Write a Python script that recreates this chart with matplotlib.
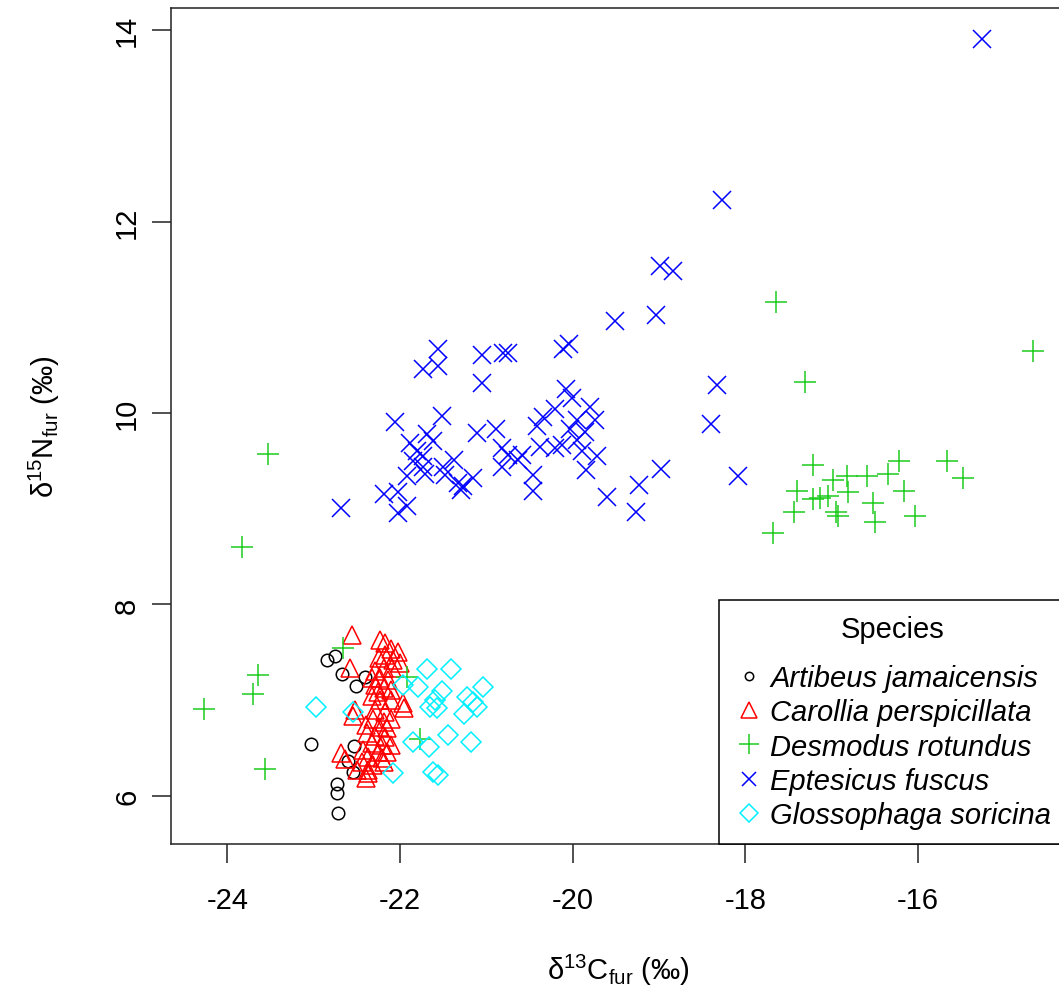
import matplotlib
matplotlib.use("Agg")
import matplotlib.pyplot as plt
from matplotlib.lines import Line2D

plt.rcParams['font.family'] = ['Liberation Sans', 'DejaVu Sans']
plt.rcParams['mathtext.fontset'] = 'custom'
plt.rcParams['mathtext.rm'] = 'Liberation Sans'
plt.rcParams['mathtext.it'] = 'Liberation Sans:italic'

# Artibeus jamaicensis
art_c = [-22.85, -22.75, -22.67, -22.51, -22.41, -23.03, -22.53, -22.60, -22.55, -22.73, -22.73, -22.72]
art_n = [7.42, 7.46, 7.27, 7.15, 7.24, 6.54, 6.52, 6.36, 6.25, 6.12, 6.03, 5.82]

# Carollia perspicillata
car_c = [-22.56, -22.58, -22.23, -22.17, -22.11, -22.17, -22.25, -22.08, -22.03, -22.00,
         -22.09, -22.19, -22.29, -22.32, -22.23, -22.14, -22.29, -22.19, -22.11, -22.26,
         -22.32, -22.23, -22.11, -21.97, -21.96, -22.52, -22.55, -22.29, -22.17, -22.31,
         -22.19, -22.11, -22.40, -22.25, -22.15, -22.38, -22.29, -22.17, -22.32, -22.21,
         -22.11, -22.43, -22.26, -22.15, -22.69, -22.37, -22.21, -22.64, -22.44, -22.31,
         -22.19, -22.37, -22.50, -22.40, -22.37]
car_n = [7.68, 7.34, 7.63, 7.60, 7.53, 7.47, 7.44, 7.42, 7.50, 7.39,
         7.34, 7.34, 7.30, 7.23, 7.23, 7.21, 7.16, 7.13, 7.11, 7.08,
         7.04, 7.00, 7.00, 6.97, 6.92, 6.90, 6.83, 6.90, 6.88, 6.80,
         6.77, 6.80, 6.74, 6.72, 6.71, 6.66, 6.62, 6.61, 6.55, 6.53,
         6.53, 6.48, 6.46, 6.46, 6.45, 6.41, 6.40, 6.38, 6.35, 6.32,
         6.35, 6.27, 6.27, 6.19, 6.24]

# Desmodus rotundus
des_c = [-24.27, -23.83, -23.53, -23.65, -23.70, -23.56, -22.66, -21.92, -21.77,
         -17.65, -14.67, -17.31, -17.22, -16.22, -15.67, -15.48, -16.35, -16.59,
         -16.82, -16.99, -17.40, -17.22, -17.04, -16.81, -16.16, -16.52, -17.44,
         -16.95, -16.93, -16.50, -16.03, -17.68, -17.14]
des_n = [6.91, 8.60, 9.57, 7.26, 7.06, 6.28, 7.54, 7.24, 6.59,
         11.16, 10.65, 10.32, 9.46, 9.50, 9.50, 9.32, 9.36, 9.34,
         9.34, 9.30, 9.19, 9.10, 9.13, 9.17, 9.19, 9.06, 8.97,
         8.97, 8.92, 8.86, 8.92, 8.75, 9.11]

# Eptesicus fuscus
ept_c = [-15.26, -18.27, -18.99, -18.84, -19.51, -19.03, -18.33, -18.40, -18.98, -19.23,
         -19.60, -19.27, -18.09, -21.56, -21.74, -21.56, -21.05, -21.05, -20.81, -20.75,
         -20.11, -20.04, -22.06, -21.51, -21.11, -20.89, -21.88, -21.69, -21.62, -20.82,
         -20.75, -20.59, -20.82, -20.46, -20.46, -22.19, -22.02, -22.02, -21.92, -21.92,
         -21.85, -21.74, -21.73, -21.71, -21.48, -21.38, -21.33, -21.27, -21.16, -21.30,
         -22.69, -20.64, -21.80, -21.50, -20.08, -20.01, -19.80, -20.35, -20.41, -20.20,
         -19.95, -19.74, -20.03, -19.86, -20.20, -20.38, -19.95, -19.89, -19.72, -19.85,
         -20.12]
ept_n = [13.91, 12.23, 11.54, 11.48, 10.96, 11.02, 10.29, 9.89, 9.42, 9.25,
         9.12, 8.97, 9.34, 10.67, 10.46, 10.49, 10.61, 10.31, 10.63, 10.63,
         10.67, 10.72, 9.91, 9.97, 9.79, 9.83, 9.69, 9.78, 9.71, 9.63,
         9.56, 9.56, 9.44, 9.35, 9.19, 9.15, 9.18, 8.96, 9.03, 9.34,
         9.50, 9.55, 9.44, 9.36, 9.35, 9.51, 9.27, 9.24, 9.32, 9.20,
         9.01, 9.51, 9.60, 9.44, 10.25, 10.16, 10.06, 9.96, 9.86, 10.04,
         9.93, 9.93, 9.83, 9.80, 9.64, 9.65, 9.72, 9.60, 9.55, 9.41,
         9.67]

# Glossophaga soricina
glo_c = [-22.98, -22.54, -21.97, -21.69, -21.41, -21.79, -21.51, -21.59, -21.65, -21.57,
         -21.23, -21.15, -21.04, -21.11, -21.26, -21.85, -21.66, -21.45, -21.18, -22.08,
         -21.62, -21.56]
glo_n = [6.93, 6.88, 7.16, 7.33, 7.33, 7.14, 7.10, 7.00, 6.93, 6.92,
         7.03, 6.98, 7.14, 6.93, 6.86, 6.56, 6.51, 6.64, 6.56, 6.24,
         6.25, 6.22]

species = ["Artibeus jamaicensis", "Carollia perspicillata", "Desmodus rotundus",
           "Eptesicus fuscus", "Glossophaga soricina"]
xs = [art_c, car_c, des_c, ept_c, glo_c]
ys = [art_n, car_n, des_n, ept_n, glo_n]
colors = ["black", "#ff0000", "#1ccc1c", "#0000ff", "#00f0ff"]
markers = ["o", "^", "+", "x", "D"]
sizes = [9, 12.5, 15.5, 12.5, 10.5]
leg_sizes = [6, 11, 14, 10, 9]

fig = plt.figure(figsize=(10.59, 9.87), dpi=100)
ax = fig.add_axes([171 / 1059, 142 / 987, 895 / 1059, 836 / 987])

for x, y, c, m, s in zip(xs, ys, colors, markers, sizes):
    ax.plot(x, y, linestyle="none", marker=m, markersize=s, markerfacecolor="none",
            markeredgecolor=c, markeredgewidth=1.1)

ax.margins(x=0.04, y=0.04)
ax.set_xticks([-24, -22, -20, -18, -16])
ax.set_yticks([6, 8, 10, 12, 14])
ax.set_xticklabels(["-24", "-22", "-20", "-18", "-16"])
ax.tick_params(axis="both", direction="out", length=13.5, width=1.1, labelsize=21,
               color="#222222")
ax.tick_params(axis="x", pad=17)
ax.tick_params(axis="y", pad=8, labelrotation=90)
for lab in ax.get_yticklabels():
    lab.set_verticalalignment("center")
for sp in ax.spines.values():
    sp.set_linewidth(1.1)
    sp.set_color("#222222")

ax.set_xlabel("δ$^{13}$C$_{\\mathrm{fur}}$ (‰)", fontsize=21, labelpad=27)
ax.set_ylabel("δ$^{15}$N$_{\\mathrm{fur}}$ (‰)", fontsize=21, labelpad=37)

handles = [Line2D([], [], linestyle="none", marker=m, markersize=s, markerfacecolor="none",
                  markeredgecolor=c, markeredgewidth=1.1)
           for m, s, c in zip(markers, leg_sizes, colors)]
leg = ax.legend(handles, species, title="Species", loc="lower right",
                bbox_to_anchor=(1, 0), borderaxespad=0, fontsize=21, title_fontsize=21,
                prop={"style": "italic", "size": 21}, fancybox=False, framealpha=1,
                edgecolor="black", borderpad=0.5, handlelength=1.0, handletextpad=0.25,
                labelspacing=0.22)
leg.get_frame().set_linewidth(1.1)
# a little more room between the title and the entries, as in the original
leg._legend_box.sep = 15

fig.savefig("out.png", dpi=100)
